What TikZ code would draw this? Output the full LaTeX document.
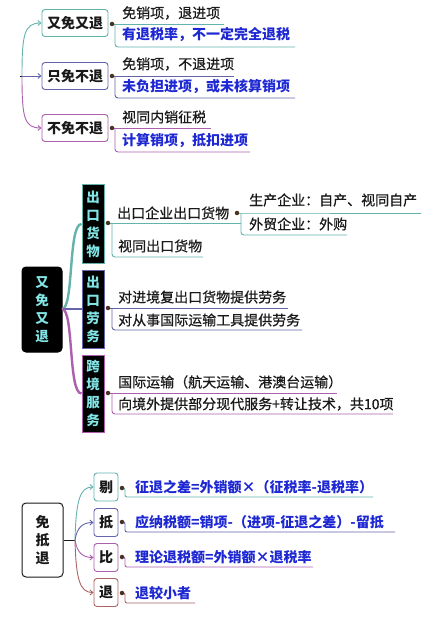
\documentclass[tikz,border=0pt]{standalone}
\usepackage{fontspec}
\setmainfont{Noto Sans CJK SC}
\newfontfamily\medcjk[FakeBold=0.6]{Noto Sans CJK SC}
\usetikzlibrary{arrows.meta}
\definecolor{cteal}{RGB}{100,178,172}
\definecolor{cpb}{RGB}{100,100,170}
\definecolor{cpink}{RGB}{172,95,172}
\definecolor{cbrown}{RGB}{170,100,100}
\definecolor{cblue}{RGB}{30,40,210}
\definecolor{ctext}{RGB}{25,25,25}
\definecolor{ccyan}{RGB}{130,228,228}
\definecolor{cdot}{RGB}{70,50,30}
\begin{document}
\begin{tikzpicture}[x=1pt,y=-1pt,
  txt/.style={anchor=west,inner sep=0pt,font=\medcjk\fontsize{14}{16}\selectfont,text=ctext},
  btxt/.style={anchor=west,inner sep=0pt,font=\fontsize{14}{16}\selectfont\bfseries,text=cblue},
  wbox/.style={draw=#1,line width=0.9pt,rounded corners=3pt,fill=white,minimum width=66pt,minimum height=27pt,inner sep=0pt,font=\fontsize{14}{16}\selectfont\bfseries,text=ctext},
  sbox/.style={draw=#1,line width=0.9pt,rounded corners=3pt,fill=white,minimum width=24pt,minimum height=28pt,inner sep=0pt,font=\fontsize{14}{16}\selectfont\bfseries,text=ctext},
  kbox/.style={draw=#1,line width=1pt,fill=black,minimum width=22pt,inner sep=0pt,align=center,text=ccyan,font=\fontsize{13.5}{18}\selectfont\bfseries},
  dot/.style={circle,fill=cdot,inner sep=0pt,minimum size=4.5pt},
  thin/.style={line width=0.9pt},
  thick/.style={line width=2.4pt},
  arr/.style={-{Straight Barb[length=3pt,width=5pt]}},
]
\useasboundingbox (0,0) rectangle (422,617);

% ---------- top section ----------
\coordinate (r1) at (22,76);
\draw[thin,black] (20,76) -- (r1);
\node[wbox=cteal] (a1) at (75,23) {又免又退};
\node[wbox=cpb] (a2) at (75,76) {只免不退};
\node[wbox=cpink] (a3) at (75,128) {不免不退};
\draw[thin,cteal,arr] (r1) .. controls (22,35) and (24,23) .. (a1.west);
\draw[thin,cpb,arr] (r1) -- (a2.west);
\draw[thin,cpink,arr] (r1) .. controls (22,117) and (24,128) .. (a3.west);

\node[txt] (t1) at (122,13) {免销项，退进项};
\node[btxt] (t2) at (122,35) {有退税率，不一定完全退税};
\node[txt] (t3) at (122,64) {免销项，不退进项};
\node[btxt] (t4) at (122,87) {未负担进项，或未核算销项};
\node[txt] (t5) at (122,117) {视同内销征税};
\node[btxt] (t6) at (122,141) {计算销项，抵扣进项};

\draw[thin,cteal] (112,24) -- (224,24);
\draw[thin,cteal,rounded corners=3pt] (115,24) -- (115,47) -- (295,47);
\draw[thin,cpb] (112,76) -- (234,76);
\draw[thin,cpb,rounded corners=3pt] (115,76) -- (115,98) -- (295,98);
\draw[thin,cpink] (112,128) -- (211,128);
\draw[thin,cpink,rounded corners=3pt] (115,128) -- (115,152) -- (250,152);
\node[dot] (d1) at (112,24) {};
\node[dot] (d2) at (112,76) {};
\node[dot] (d3) at (112,128) {};

% ---------- middle section ----------
\node[kbox=black,minimum width=40pt,minimum height=85pt,rounded corners=4pt] (b0) at (42,309.5) {又\\免\\又\\退};
\node[kbox=cteal,minimum height=78pt] (b1) at (93,224) {出\\口\\货\\物};
\node[kbox=cpb,minimum height=78pt] (b2) at (93,309) {出\\口\\劳\\务};
\node[kbox=cpink,minimum height=77pt] (b3) at (93,393.5) {跨\\境\\服\\务};
\draw[thick,cteal] (62,309) .. controls (74,309) and (68,224) .. (b1.west);
\draw[thick,cpb] (62,309) -- (b2.west);
\draw[thick,cpink] (62,309) .. controls (74,309) and (68,393.5) .. (b3.west);

\node[txt] (m1) at (117,213) {出口企业出口货物};
\node[txt] (m11) at (249,200) {生产企业：自产、视同自产};
\node[txt] (m12) at (249,224) {外贸企业：外购};
\node[txt] (m2) at (118,246) {视同出口货物};
\node[txt] (m3) at (118,297) {对进境复出口货物提供劳务};
\node[txt] (m4) at (118,320) {对从事国际运输工具提供劳务};
\node[txt] (m5) at (118,382) {国际运输（航天运输、港澳台运输）};
\node[txt] (m6) at (118,404) {向境外提供部分现代服务+转让技术，共10项};

\draw[thin,cteal] (108,223) -- (241,223);
\draw[thin,cteal,rounded corners=3pt] (112,223) -- (112,257) -- (203,257);
\draw[thin,cteal] (237,213) -- (241,213) -- (421,213);
\draw[thin,cteal,rounded corners=3pt] (241,213) -- (241,235) -- (347,235);
\draw[thin,cpb] (108,308) -- (288,308);
\draw[thin,cpb,rounded corners=3pt] (112,308) -- (112,330) -- (302,330);
\draw[thin,cpink] (108,393) -- (337,393);
\draw[thin,cpink,rounded corners=3pt] (112,393) -- (112,414) -- (393,414);
\node[dot] (e1) at (108,223) {};
\node[dot] (e11) at (237,213) {};
\node[dot] (e2) at (108,308) {};
\node[dot] (e3) at (108,393) {};

% ---------- bottom section ----------
\node[draw=ctext,line width=1pt,rounded corners=4pt,fill=white,minimum width=41pt,minimum height=74pt,inner sep=0pt,align=center,font=\fontsize{14}{18}\selectfont\bfseries,text=ctext] (c0) at (42.5,540) {免\\抵\\退};
\coordinate (cj) at (75,540);
\draw[thin,ctext] (c0.east) -- (cj);
\node[sbox=cteal] (c1) at (106,487) {剔};
\node[sbox=cpb] (c2) at (106,522.5) {抵};
\node[sbox=cpink] (c3) at (106,557.5) {比};
\node[sbox=cbrown] (c4) at (106,592.5) {退};
\draw[thin,cteal,arr] (cj) .. controls (76,500) and (80,487) .. (c1.west);
\draw[thin,cpb,arr] (cj) .. controls (77,528) and (82,522.5) .. (c2.west);
\draw[thin,cpink,arr] (cj) .. controls (77,552) and (82,557.5) .. (c3.west);
\draw[thin,cbrown,arr] (cj) .. controls (76,580) and (80,592.5) .. (c4.west);

\node[btxt] (n1) at (135,487) {征退之差=外销额×（征税率-退税率）};
\node[btxt] (n2) at (135,522) {应纳税额=销项-（进项-征退之差）-留抵};
\node[btxt] (n3) at (135,557) {理论退税额=外销额×退税率};
\node[btxt] (n4) at (135,593) {退较小者};

\draw[thin,cteal,rounded corners=2pt] (122,488) -- (125,488) -- (125,497) -- (373,497);
\draw[thin,cpb,rounded corners=2pt] (122,522) -- (125,522) -- (125,532) -- (395,532);
\draw[thin,cpink,rounded corners=2pt] (122,557) -- (125,557) -- (125,567) -- (313,567);
\draw[thin,cbrown,rounded corners=2pt] (122,593) -- (125,593) -- (125,603) -- (195,603);
\node[dot] (f1) at (122,488) {};
\node[dot] (f2) at (122,522) {};
\node[dot] (f3) at (122,557) {};
\node[dot] (f4) at (122,593) {};
\end{tikzpicture}
\end{document}
